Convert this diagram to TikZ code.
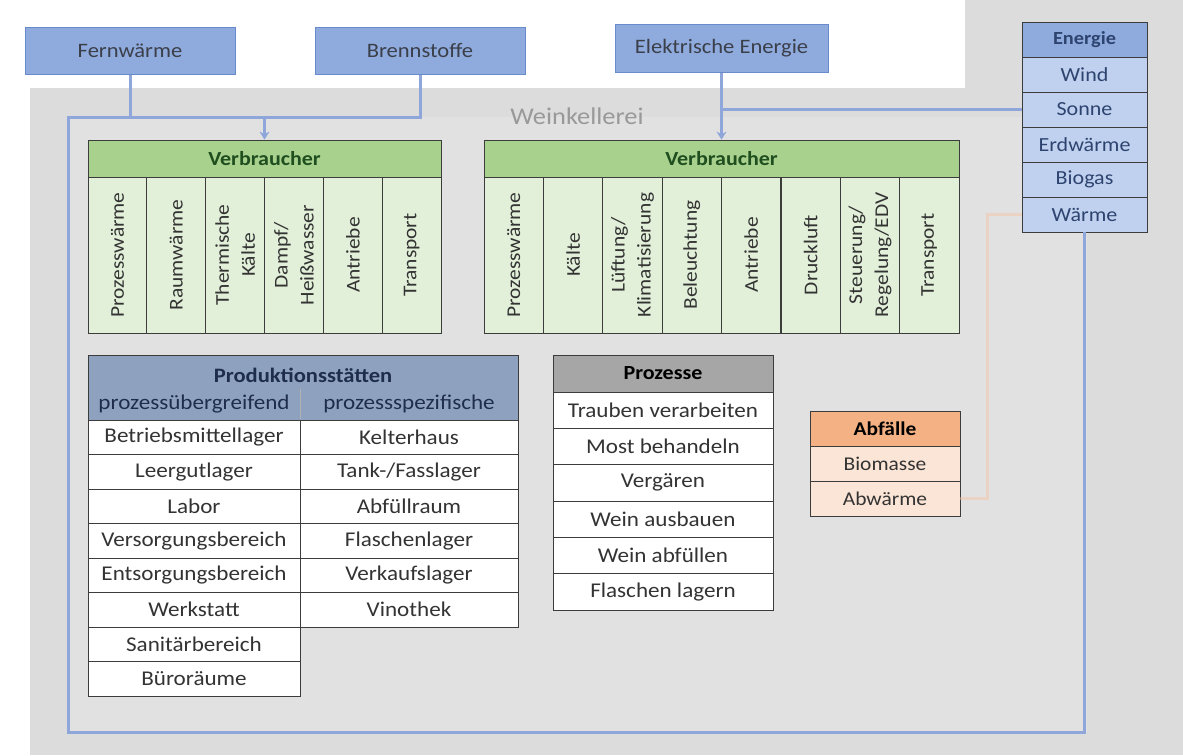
\documentclass[tikz,border=0pt]{standalone}
\usepackage{fontspec}
\setmainfont{Carlito}[FakeStretch=1.1]
\usetikzlibrary{arrows.meta}

\definecolor{bggray}{HTML}{DCDCDC}
\definecolor{innergray}{HTML}{E1E1E1}
\definecolor{pipeblue}{HTML}{8EA6DA}
\definecolor{srcfill}{HTML}{8FAADC}
\definecolor{srcedge}{HTML}{6A8BCB}
\definecolor{srctext}{HTML}{3A3F4A}
\definecolor{enhead}{HTML}{8FAADC}
\definecolor{enrow}{HTML}{BFD1EE}
\definecolor{entext}{HTML}{2E4470}
\definecolor{vbhead}{HTML}{A9D18E}
\definecolor{vbcell}{HTML}{E2F0D9}
\definecolor{vbtext}{HTML}{1F4E1F}
\definecolor{prodfill}{HTML}{8EA2C0}
\definecolor{prodtext}{HTML}{1F2D4D}
\definecolor{prozhead}{HTML}{A6A6A6}
\definecolor{abfhead}{HTML}{F4B183}
\definecolor{abfrow}{HTML}{FBE5D6}
\definecolor{wasteline}{HTML}{F8C3A0}
\definecolor{celledge}{HTML}{3C3C3C}
\definecolor{celltext}{HTML}{333333}

\tikzset{
  srcbox/.style={draw=srcedge, line width=1pt, fill=srcfill, text=srctext,
    minimum width=210pt, minimum height=47pt, inner sep=0pt,
    font=\fontsize{20.5}{23}\selectfont},
  tabcell/.style={draw=celledge, line width=0.8pt, inner sep=0pt, align=center,
    text=celltext, font=\fontsize{21}{24}\selectfont},
  encell/.style={tabcell, fill=enrow, text=entext, minimum width=125pt,
    minimum height=35pt, font=\fontsize{20}{22}\selectfont},
  vcol/.style={tabcell, rotate=90, fill=vbcell, minimum width=156pt,
    font=\fontsize{19.5}{26}\selectfont},
  vhead/.style={tabcell, fill=vbhead, minimum height=37pt, text=vbtext,
    font=\bfseries\fontsize{20}{22}\selectfont},
  prodcell/.style={tabcell, fill=white, minimum height=34.5pt},
  prozcell/.style={tabcell, fill=white, minimum width=220pt, minimum height=36.33pt},
  abfcell/.style={tabcell, fill=abfrow, minimum width=150pt, minimum height=35pt,
    font=\fontsize{19.5}{22}\selectfont},
  pipe/.style={draw=pipeblue, line width=3pt},
}

\begin{document}
\begin{tikzpicture}[x=1pt,y=-1pt]
   % Hintergrund
   \useasboundingbox (0,0) rectangle (1183,755);
   \fill[white] (0,0) rectangle (1183,755);
   \fill[bggray] (30,88) rectangle (1183,755);
   \fill[bggray] (965,0) rectangle (1183,88);
   \fill[innergray] (68,117) rectangle (1087,732);
   \node[text=gray!80, font=\fontsize{24}{26}\selectfont] (wk) at (577,116) {Weinkellerei};

   % Energiequellen
   \node[srcbox] (fern)  at (130,50.5) {Fernwärme};
   \node[srcbox] (brenn) at (420,50.5) {Brennstoffe};
   \node[srcbox, minimum width=213pt, minimum height=48pt] (elek) at (721.5,48) {Elektrische Energie};

   \node[encell, fill=enhead, font=\bfseries\fontsize{18.5}{20}\selectfont] (energie) at (1084.5,39.5) {Energie};
   \node[encell] (wind)    at (1084.5,74.5)  {Wind};
   \node[encell] (sonne)   at (1084.5,109.5) {Sonne};
   \node[encell] (erdw)    at (1084.5,144.5) {Erdwärme};
   \node[encell] (biogas)  at (1084.5,179.5) {Biogas};
   \node[encell] (waerme)  at (1084.5,214.5) {Wärme};

   % Verbraucher links
   \node[vhead, minimum width=353pt] (vbL) at (264.5,158.5) {Verbraucher};
   \node[vcol, minimum height=58.83pt] (vbLa) at (117.4,255) {Prozesswärme};
   \node[vcol, minimum height=58.83pt] (vbLb) at (176.3,255) {Raumwärme};
   \node[vcol, minimum height=58.83pt] (vbLc) at (235.1,255) {Thermische\\Kälte};
   \node[vcol, minimum height=58.83pt] (vbLd) at (293.9,255) {Dampf/\\Heißwasser};
   \node[vcol, minimum height=58.83pt] (vbLe) at (352.8,255) {Antriebe};
   \node[vcol, minimum height=58.83pt] (vbLf) at (411.6,255) {Transport};

   % Verbraucher rechts
   \node[vhead, minimum width=475pt] (vbR) at (721.5,158.5) {Verbraucher};
   \node[vcol, minimum height=59.375pt] (vbRa) at (513.7,255) {Prozesswärme};
   \node[vcol, minimum height=59.375pt] (vbRb) at (573.1,255) {Kälte};
   \node[vcol, minimum height=59.375pt] (vbRc) at (632.4,255) {Lüftung/\\Klimatisierung};
   \node[vcol, minimum height=59.375pt] (vbRd) at (691.8,255) {Beleuchtung};
   \node[vcol, minimum height=59.375pt] (vbRe) at (751.2,255) {Antriebe};
   \node[vcol, minimum height=59.375pt] (vbRf) at (810.6,255) {Druckluft};
   \node[vcol, minimum height=59.375pt] (vbRg) at (869.9,255) {Steuerung/\\Regelung/EDV};
   \node[vcol, minimum height=59.375pt] (vbRh) at (929.3,255) {Transport};

   % Produktionsstaetten
   \node[tabcell, fill=prodfill, minimum width=430pt, minimum height=65pt] (prodhead) at (303,387.5) {};
   \node[text=prodtext, font=\bfseries\fontsize{20.5}{22}\selectfont] (prodtitle) at (303,375) {Produktionsstätten};
   \node[text=prodtext, inner sep=0pt, minimum width=212pt, minimum height=30pt,
         font=\fontsize{21}{23}\selectfont] (prodsubL) at (194,404) {prozessübergreifend};
   \node[text=prodtext, inner sep=0pt, minimum width=218pt, minimum height=30pt,
         font=\fontsize{21}{23}\selectfont] (prodsubR) at (409,404) {prozessspezifische};
   \draw[celledge!40, line width=0.8pt] (prodsubL.north east) -- (prodsubL.south east);

   \node[prodcell, minimum width=212pt] (betr)  at (194,437.25) {Betriebsmittellager};
   \node[prodcell, minimum width=212pt] (leer)  at (194,471.75) {Leergutlager};
   \node[prodcell, minimum width=212pt] (labor) at (194,506.25) {Labor};
   \node[prodcell, minimum width=212pt] (vers)  at (194,540.75) {Versorgungsbereich};
   \node[prodcell, minimum width=212pt] (ents)  at (194,575.25) {Entsorgungsbereich};
   \node[prodcell, minimum width=212pt] (werk)  at (194,609.75) {Werkstatt};
   \node[prodcell, minimum width=212pt] (sani)  at (194,644.25) {Sanitärbereich};
   \node[prodcell, minimum width=212pt] (buero) at (194,678.75) {Büroräume};

   \node[prodcell, minimum width=218pt] (kelter) at (409,437.25) {Kelterhaus};
   \node[prodcell, minimum width=218pt] (tank)   at (409,471.75) {Tank-/Fasslager};
   \node[prodcell, minimum width=218pt] (abf)    at (409,506.25) {Abfüllraum};
   \node[prodcell, minimum width=218pt] (flasch) at (409,540.75) {Flaschenlager};
   \node[prodcell, minimum width=218pt] (verk)   at (409,575.25) {Verkaufslager};
   \node[prodcell, minimum width=218pt] (vino)   at (409,609.75) {Vinothek};

   % Prozesse
   \node[prozcell, fill=prozhead, minimum height=37pt, text=black,
         font=\bfseries\fontsize{20}{22}\selectfont] (prozhd) at (663,373.5) {Prozesse};
   \node[prozcell] (pr1) at (663,410.2) {Trauben verarbeiten};
   \node[prozcell] (pr2) at (663,446.5) {Most behandeln};
   \node[prozcell] (pr3) at (663,482.8) {Vergären};
   \node[prozcell] (pr4) at (663,519.2) {Wein ausbauen};
   \node[prozcell] (pr5) at (663,555.5) {Wein abfüllen};
   \node[prozcell] (pr6) at (663,591.8) {Flaschen lagern};

   % Abfaelle
   \node[abfcell, fill=abfhead, text=black,
         font=\bfseries\fontsize{19.5}{22}\selectfont] (abfhd) at (885,428.5) {Abfälle};
   \node[abfcell] (biomasse) at (885,463.5) {Biomasse};
   \node[abfcell] (abwaerme) at (885,498.5) {Abwärme};

   % Verbindungen
   \coordinate (cTL) at (68,117);
   \coordinate (cBL) at (68,732);
   \draw[wasteline, line width=3pt, opacity=0.45] (abwaerme.east) -- ++(27,0) |- (waerme.west);
   \draw[pipe] (fern.south) -- (fern.south |- cTL);
   \draw[pipe, line join=miter] (brenn.south) |- (cTL) -- (cBL) -| (waerme.south);
   \draw[pipe, -{Stealth[length=8pt,width=10pt]}] (vbL.north |- cTL) -- (vbL.north);
   \draw[pipe, -{Stealth[length=8pt,width=10pt]}] (elek.south) -- (vbR.north);
   \draw[pipe] (sonne.west) -- (sonne.west -| elek.south);
  \end{tikzpicture}
\end{document}
